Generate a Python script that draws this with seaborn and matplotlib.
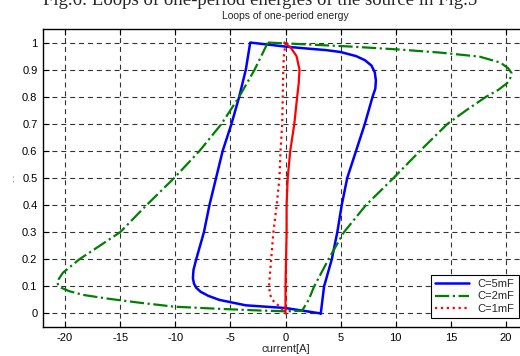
import matplotlib
matplotlib.use("Agg")
import matplotlib.pyplot as plt
import seaborn as sns
import numpy as np

# C=5mF loop (solid blue)
blue_x = [3.2, 3.5, 4.2, 4.7, 5.1, 5.6, 6.4, 7.2, 7.9, 8.15, 8.2, 8.1, 7.8, 7.2, 6.4, 5.0, 3.7, 2.2, 0.0, -3.2,
          -3.6, -4.2, -4.9, -5.7, -6.3, -6.9, -7.4, -8.1, -8.35, -8.4, -8.3, -8.1, -7.7, -7.0, -6.0, -3.6,
          0.0, 3.2]
blue_y = [0.0, 0.1, 0.2, 0.3, 0.4, 0.5, 0.6, 0.7, 0.8, 0.83, 0.86, 0.89, 0.915, 0.935, 0.95, 0.965, 0.972,
          0.977, 0.985, 1.0,
          0.9, 0.8, 0.7, 0.6, 0.5, 0.4, 0.3, 0.2, 0.16, 0.13, 0.11, 0.095, 0.08, 0.065, 0.05, 0.03,
          0.02, 0.0]

# C=2mF loop (green dash-dot)
green_x = [-1.6, 2.0, 6.0, 10.4, 14.0, 17.6, 19.5, 20.2, 20.5, 20.4, 20.1, 19.3, 18.2, 16.4, 14.7, 12.2,
           9.8, 7.3, 5.3, 3.9, 2.6, 2.1, 1.5, 0.0, -2.4, -6.0, -10.1, -13.3, -16.0, -18.3, -19.6, -20.3,
           -20.6, -20.7, -20.6, -20.2, -18.7, -15.0, -12.6, -10.1, -7.8, -5.8, -4.2, -2.8, -1.6]
green_y = [1.0, 0.993, 0.985, 0.974, 0.963, 0.948, 0.926, 0.905, 0.888, 0.87, 0.85, 0.825, 0.8, 0.75, 0.7,
           0.6, 0.5, 0.4, 0.3, 0.2, 0.1, 0.05, 0.01, 0.008, 0.011, 0.017, 0.025, 0.04, 0.054, 0.068, 0.082,
           0.094, 0.104, 0.113, 0.125, 0.15, 0.2, 0.3, 0.4, 0.5, 0.6, 0.7, 0.8, 0.9, 1.0]

# C=1mF loop: solid red branch and dotted red branch
red_x = [0.0, 0.0, 0.05, 0.1, 0.1, 0.2, 0.43, 0.8, 1.06, 1.2, 1.27, 1.0, 0.5, -0.1]
red_y = [0.0, 0.1, 0.2, 0.3, 0.4, 0.5, 0.6, 0.7, 0.8, 0.85, 0.9, 0.95, 0.98, 1.0]
dot_x = [0.0, -0.15, -0.2, -0.25, -0.3, -0.45, -0.55, -0.8, -1.1, -1.3, -1.5, -1.4, -1.2, -0.4, 0.0]
dot_y = [1.0, 0.95, 0.9, 0.8, 0.7, 0.6, 0.5, 0.4, 0.3, 0.2, 0.1, 0.07, 0.05, 0.02, 0.0]

x_ticks = [-20, -15, -10, -5, 0, 5, 10, 15, 20]
y_ticks = [0, 0.1, 0.2, 0.3, 0.4, 0.5, 0.6, 0.7, 0.8, 0.9, 1]

sns.set_style("white")
plt.rcParams['font.family'] = ['Liberation Sans', 'DejaVu Sans']
plt.rcParams['axes.unicode_minus'] = False

fig = plt.figure(figsize=(5.2, 3.56), dpi=100)
# axes run a bit past the right edge, like the cropped original
ax = fig.add_axes([43 / 520, (356 - 327) / 356, 485 / 520, 298 / 356])

sns.lineplot(x=blue_x, y=blue_y, sort=False, estimator=None, ax=ax, color='#0000ff', lw=1.8, label='C=5mF')
sns.lineplot(x=green_x, y=green_y, sort=False, estimator=None, ax=ax, color='#008000', lw=1.6,
             linestyle='-.', label='C=2mF')
sns.lineplot(x=dot_x, y=dot_y, sort=False, estimator=None, ax=ax, color='#ff0000', lw=1.6,
             linestyle=':', label='C=1mF')
sns.lineplot(x=red_x, y=red_y, sort=False, estimator=None, ax=ax, color='#ff0000', lw=1.6)

ax.set_xlim(-22, 22)
ax.set_ylim(-0.05, 1.05)
ax.set_xticks(x_ticks)
ax.set_xticklabels([str(t) for t in x_ticks])
ax.set_yticks(y_ticks)
ax.set_yticklabels(['0' if t == 0 else ('1' if t == 1 else f'{t:.1f}') for t in y_ticks])
ax.tick_params(direction='in', length=4, width=0.8, labelsize=8, top=True, right=True,
               bottom=True, left=True, pad=4, colors='black')
ax.grid(True, color='0.2', linestyle=(0, (4.5, 3.5)), linewidth=0.8)
for s in ax.spines.values():
    s.set_color('black')
    s.set_linewidth(1.0)

ax.set_title('Loops of one-period energy', fontsize=7.5, pad=7)
ax.set_xlabel('current[A]', fontsize=8, labelpad=1)
ax.set_ylabel(". .", fontsize=6, labelpad=4)

ax.legend(loc='lower right', bbox_to_anchor=(0.981, 0.030), borderaxespad=0, fontsize=8,
          fancybox=False, framealpha=1, edgecolor='black', handlelength=3.0, labelspacing=0.2,
          borderpad=0.4)
ax.get_legend().get_frame().set_linewidth(0.8)

fig.text(0.5, 1 - 5 / 356, 'Fig.6: Loops of one-period energies of the source in Fig.5',
         family=['Liberation Serif', 'DejaVu Serif'], fontsize=13.5, ha='center', va='baseline')

fig.savefig('out.png', dpi=100)
